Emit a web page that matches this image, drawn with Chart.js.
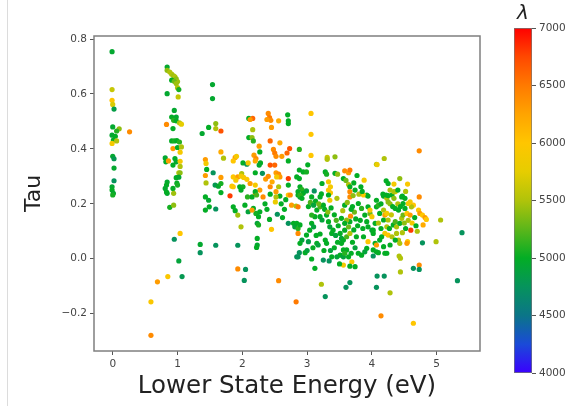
<!DOCTYPE html>
<html>
<head>
<meta charset="utf-8">
<script src="https://cdn.jsdelivr.net/npm/chart.js@4.4.0/dist/chart.umd.min.js"></script>
<style>
  html, body { margin: 0; padding: 0; background: #fff; }
  #page { position: relative; width: 581px; height: 406px; overflow: hidden; }
  #edge { position: absolute; left: 7px; top: 0; width: 1px; height: 406px; background: #dcdcdc; }
  #scatterBox { position: absolute; left: 0; top: 0; width: 500px; height: 406px; }
  #barBox { position: absolute; left: 500px; top: 0; width: 81px; height: 406px; }
</style>
</head>
<body>
<div id="page">
  <div id="edge"></div>
  <div id="scatterBox"><canvas id="scatter"></canvas></div>
  <div id="barBox"><canvas id="colorbar"></canvas></div>
</div>
<script>
// each line: [lower state energy (eV), tau, wavelength (A)]
const stripZero = [
  [-0.01,0.754,4950],[-0.01,0.616,5600],[-0.01,0.577,6000],[0.00,0.562,5700],[0.02,0.545,4850],
  [0.00,0.480,4950],[0.10,0.473,5400],[0.06,0.465,5100],[-0.01,0.450,4950],[0.04,0.446,5000],
  [0.01,0.432,5000],[0.06,0.429,5500],[-0.01,0.420,5900],[0.26,0.462,6400],[0.00,0.373,4950],
  [0.02,0.364,4800],[0.02,0.330,4950],[0.02,0.284,4750],[-0.01,0.262,4950],[-0.01,0.250,5000],
  [0.01,0.238,4950],[0.00,0.232,5050]
];

const stripOne = [
  [0.84,0.698,4950],[0.84,0.686,5400],[0.88,0.680,5500],[0.91,0.672,5500],[0.94,0.666,5450],
  [0.96,0.662,5500],[0.98,0.655,5400],[1.00,0.645,5450],[0.91,0.650,5000],[0.95,0.646,5300],
  [0.98,0.638,5450],[1.00,0.623,5500],[1.02,0.616,5050],[0.84,0.601,4950],[1.01,0.589,5600],
  [0.95,0.540,4950],[0.91,0.516,5000],[0.98,0.516,4950],[0.94,0.504,5100],[0.98,0.502,5000],
  [1.03,0.495,5500],[1.06,0.490,5750],[0.83,0.489,6400],[0.93,0.474,5000],[0.91,0.429,5000],
  [0.95,0.429,5050],[0.99,0.430,5000],[1.03,0.425,5100],[0.93,0.401,6300],[1.00,0.405,5000],
  [1.06,0.407,5500],[1.04,0.388,5900],[0.81,0.367,4950],[0.96,0.365,5000],[0.82,0.353,5000],
  [0.86,0.356,6300],[0.98,0.353,4950],[1.04,0.355,5900],[0.93,0.341,5000],[1.04,0.336,5500],
  [1.02,0.313,5500],[1.04,0.313,5400],[0.98,0.295,5000],[1.02,0.297,4950],[0.84,0.279,4950],
  [0.83,0.268,5000],[0.81,0.256,4950],[0.99,0.275,5000],[1.00,0.268,5050],[0.93,0.256,5000],
  [0.84,0.238,4950],[0.94,0.238,5450],[0.83,0.243,5000],[0.88,0.187,5050],[0.94,0.195,5400],
  [1.04,0.092,6000],[0.95,0.071,4750],[1.02,-0.008,4900],[1.07,-0.065,4800],[0.85,-0.065,5950],
  [0.69,-0.084,6300],[0.59,-0.157,5950],[0.59,-0.279,6400]
];

const bandTwo = [
  [1.54,0.634,4950],[1.54,0.583,4950],[1.59,0.492,5400],[1.59,0.474,5500],[1.67,0.465,6700],
  [1.48,0.478,5000],[1.38,0.456,4950],[1.67,0.389,6200],[1.71,0.366,5500],[1.43,0.361,6300],
  [1.44,0.347,5900],[1.45,0.325,5000],[1.43,0.303,6300],[1.55,0.313,4750],[1.44,0.276,5500],
  [1.58,0.268,4800],[1.63,0.264,4950],[1.67,0.274,5050],[1.67,0.296,6300],[1.67,0.241,5000],
  [1.81,0.229,6800],[1.89,0.369,6300],[1.91,0.373,5900],[1.86,0.356,6000],[2.01,0.349,5000],
  [2.07,0.344,4750],[2.10,0.511,5000],[2.10,0.441,5000],[1.86,0.298,6000],[1.93,0.298,6300],
  [1.90,0.286,5900],[1.99,0.310,5500],[2.02,0.296,5950],[1.84,0.264,5950],[1.86,0.262,6000],
  [1.96,0.262,5000],[2.01,0.262,5050],[1.43,0.225,5000],[1.48,0.213,4950],[1.49,0.189,5000],
  [1.43,0.177,5000],[1.59,0.181,4750],[1.86,0.189,5000],[1.89,0.175,5000],[1.93,0.159,5450],
  [1.98,0.116,5500],[1.35,0.052,4950],[1.35,0.022,4750],[1.59,0.049,4750],[1.93,0.049,4750],
  [1.93,-0.037,6400],[2.05,-0.039,4750],[2.03,-0.079,4750],
  [2.16,0.511,6600],[2.12,0.507,6300],[2.16,0.470,5500],[2.15,0.441,5400],[2.17,0.429,5100],
  [2.26,0.410,6300],[2.18,0.377,6300],[2.21,0.365,6400],[2.20,0.356,6200],[2.27,0.389,5000],
  [2.09,0.349,5900],[2.28,0.349,5000],[2.26,0.341,4950],[2.20,0.313,5000],[1.98,0.301,5900],
  [2.07,0.289,5950],[2.12,0.274,6300],[2.20,0.268,5900],[1.98,0.250,5000],[2.27,0.250,6300],
  [2.20,0.236,6300],[2.15,0.225,5000],[2.08,0.225,5100],[2.20,0.244,5000],[2.22,0.232,5200],
  [2.04,0.195,5000],[2.09,0.171,4900],[2.17,0.183,5000],[2.21,0.165,5050],[2.27,0.171,5000],
  [2.25,0.153,5000],[2.23,0.129,4900],[2.25,0.123,5050],[2.15,0.177,6300],[2.23,0.074,5000],
  [2.23,0.050,4950],[2.22,0.041,5000]
];

const bandThree = [
  [2.40,0.529,6400],[2.42,0.514,6500],[2.44,0.504,6400],[2.38,0.507,6300],[2.45,0.478,6300],
  [2.56,0.502,6200],[2.70,0.524,5000],[2.71,0.502,5000],[2.71,0.492,5000],[3.06,0.529,6000],
  [3.06,0.453,6000],[3.06,0.376,6000],[2.43,0.429,6600],[2.58,0.422,6200],[2.73,0.401,6700],
  [2.69,0.385,6600],[2.48,0.398,6400],[2.50,0.385,6500],[2.52,0.373,6400],[2.61,0.373,6300],
  [2.88,0.398,5100],[3.31,0.369,5600],[3.31,0.362,5500],[3.43,0.371,5400],[3.01,0.342,5000],
  [2.43,0.341,6700],[2.50,0.341,6600],[2.71,0.356,5000],[2.88,0.323,5000],[2.94,0.316,5000],
  [2.99,0.316,5050],[2.84,0.298,5000],[2.88,0.292,5000],[2.52,0.313,6300],[2.56,0.308,6400],
  [2.58,0.298,6300],[2.71,0.292,6800],[2.53,0.298,5900],[2.31,0.311,4750],[2.43,0.262,6400],
  [2.56,0.262,5500],[2.71,0.268,5000],[2.89,0.262,5000],[2.92,0.252,5100],[2.94,0.238,5000],
  [3.11,0.247,4750],[3.23,0.274,5000],[3.33,0.280,5900],[3.36,0.262,5900],[3.28,0.316,5000],
  [3.30,0.308,5050],[3.43,0.311,5000],[3.47,0.308,5400],[3.33,0.250,6000],[3.36,0.240,5950],
  [3.22,0.236,5000],[3.07,0.225,5000],[2.89,0.225,4900],[2.86,0.232,5000],[2.71,0.232,5950],
  [2.58,0.228,5000],[2.32,0.225,6400],
  [2.43,0.235,5000],[2.52,0.244,6300],[2.52,0.225,5500],[2.51,0.207,5800],[2.74,0.232,6400],
  [2.86,0.244,5000],[2.89,0.232,5100],[2.92,0.220,5000],[2.99,0.247,4900],[3.20,0.225,5000],
  [3.33,0.232,5000],[3.35,0.213,5900],[3.46,0.220,5500],
  [2.42,0.143,5000],[2.45,0.107,6000],[2.54,0.162,4750],[2.71,0.129,4750],[2.76,0.195,6300],
  [2.83,0.192,5500],[2.86,0.189,6500],[2.79,0.129,5000],[2.81,0.116,4900],[2.84,0.129,5000],
  [2.86,0.110,5100],[2.89,0.123,5000],[2.86,0.092,6400],[2.92,0.068,4900],[2.89,0.056,5000],
  [2.99,0.086,5000],[3.02,0.062,4850],[3.04,0.104,5000],[3.07,0.129,5000],[3.10,0.116,4900],
  [3.12,0.153,5000],[3.07,0.159,5100],[3.15,0.177,5000],[3.20,0.189,5200],[3.25,0.195,5000],
  [3.20,0.153,5000],[3.23,0.141,4900],[3.30,0.159,5000],[3.33,0.135,5000],[3.35,0.116,4900],
  [3.38,0.092,5000],[3.40,0.104,5000],[2.97,0.022,5000],[2.84,0.007,4750],[2.86,0.007,4750],
  [3.07,-0.001,5000],[3.12,-0.035,5000],[3.25,-0.005,4750],[3.34,-0.008,4750],[2.88,0.022,4750],
  [3.15,0.056,5000],[3.17,0.050,4900],[3.28,0.068,5000],[3.30,0.056,5000],[3.38,0.007,5000],
  [3.46,0.007,4900],[2.56,-0.080,6400],[2.83,-0.157,6500],[3.22,-0.093,5500],[3.28,-0.138,4750],
  [2.36,0.290,6300],[2.40,0.300,6400],[2.46,0.280,6200],[2.35,0.200,5000],[2.38,0.180,5000],
  [2.60,0.200,5000],[2.65,0.180,5000],[2.62,0.150,5000],[2.67,0.215,5000],
  [3.02,0.190,5000],[3.05,0.205,5200],[3.10,0.195,4900],[3.13,0.210,5000],[3.18,0.200,5300],
  [3.27,0.180,5000],[3.32,0.170,5400],[3.37,0.185,5000],[3.42,0.160,5000],[3.45,0.140,5200],
  [3.48,0.120,5000],[3.44,0.085,4900],[3.47,0.060,5000],[3.42,0.040,5000],[3.36,0.030,4900],
  [3.26,0.030,5000],[3.20,0.090,5000],[3.14,0.085,5000],[3.09,0.040,5000],[3.00,0.030,4900]
];

const bandFour = [
  [3.58,0.320,6400],[3.64,0.313,6300],[3.66,0.323,6500],[3.77,0.303,5000],[3.88,0.286,5900],
  [3.56,0.292,5000],[3.60,0.285,5300],[3.64,0.270,5500],[3.66,0.262,5000],[3.72,0.276,5000],
  [3.83,0.262,5000],[3.92,0.232,5000],[4.07,0.344,5500],[3.66,0.244,6400],[3.66,0.225,6400],
  [3.87,0.232,6000],[3.94,0.228,5000],[3.51,0.013,5000],[3.56,0.007,4900],[3.61,0.032,5000],
  [3.56,0.032,5000],[3.58,0.020,5100],[3.64,0.007,5000],[3.51,0.092,5000],[3.53,0.074,4900],
  [3.56,0.068,5000],[3.53,0.056,5000],[3.61,0.080,5200],[3.58,0.104,5000],[3.64,0.116,5300],
  [3.66,0.135,5000],[3.61,0.141,5400],[3.53,0.147,5000],[3.58,0.129,5000],[3.67,0.155,6400],
  [3.66,0.092,5500],[3.69,-0.011,5900],[3.74,-0.029,5000],[3.66,-0.027,5000],[3.56,-0.023,5900],
  [3.50,-0.019,5000],[3.60,-0.104,4750],[3.66,-0.087,4750],[4.07,-0.104,4750],[4.14,-0.208,6400],
  [3.79,0.201,5000],[3.84,0.183,5100],[3.89,0.159,5000],[3.94,0.189,5000],[3.97,0.165,5300],
  [3.92,0.135,5000],[3.94,0.116,5000],[4.00,0.104,4900],[4.02,0.092,5000],[3.87,0.080,5000],
  [3.94,0.062,6000],[3.92,0.038,5000],[3.89,0.025,4900],[3.84,0.013,5000],[4.02,0.032,5000],
  [4.05,0.056,5000],[4.07,0.025,5000],[4.07,0.050,6300],
  [4.18,0.228,5000],[4.23,0.220,5500],[4.25,0.207,5400],[4.31,0.232,5000],[4.36,0.244,5900],
  [4.34,0.220,5400],[4.46,0.225,5000],[4.73,0.225,6400],[4.59,0.207,5900],[4.64,0.195,6000],
  [4.61,0.189,5500],[4.72,0.177,6000],[4.74,0.165,6300],[4.78,0.159,6000],[4.82,0.150,6300],
  [4.84,0.143,6000],[4.79,0.123,6200],[5.06,0.141,5500],[5.39,0.095,4750],[4.60,0.104,6800],
  [4.78,0.058,4750],[4.99,0.062,5500],[4.55,0.062,6000],[4.54,0.056,6300],[4.41,0.068,5500],
  [4.43,0.056,5500],[4.02,0.010,4750],[4.10,0.022,5000],[4.20,0.020,5000],[4.23,0.020,5000],
  [4.42,0.010,5500],[4.44,0.002,5500],[4.73,-0.023,6400],[4.64,-0.035,4750],[4.73,-0.039,4750],
  [4.44,-0.048,5500],[4.08,-0.063,4750],[4.19,-0.063,4750],[5.32,-0.080,4750],[4.28,-0.124,5500],
  [4.64,-0.235,6000],
  [3.97,0.177,5900],[4.07,0.213,5000],[4.07,0.189,5000],[4.10,0.195,5100],[4.12,0.165,5000],
  [4.18,0.177,5500],[4.20,0.159,6300],[4.23,0.165,5900],[4.18,0.141,5000],[4.25,0.141,5500],
  [4.23,0.116,5500],[4.20,0.092,5900],[4.25,0.086,6000],[4.15,0.080,5000],[4.12,0.068,5000],
  [4.33,0.123,5000],[4.36,0.135,5200],[4.38,0.116,5500],[4.43,0.129,5000],[4.46,0.147,5500],
  [4.48,0.159,5300],[4.54,0.165,6000],[4.59,0.159,6300],[4.51,0.183,5000],[4.41,0.177,5000],
  [4.36,0.183,5000],[4.38,0.092,5500],[4.31,0.080,5500],[4.36,0.068,5000],[4.28,0.050,5000],
  [4.18,0.044,5000],[4.02,0.104,5000],[4.05,0.129,5000],[4.00,0.153,5900],[4.56,0.201,5900],
  [4.48,0.201,5000],[4.51,0.220,5000],
  [4.73,0.393,6400],[4.19,0.365,5500],[4.08,0.343,5800],[4.22,0.284,5000],[4.25,0.274,5000],
  [4.34,0.272,5900],[4.43,0.292,5400],[4.55,0.272,5950],[4.34,0.244,5500],[4.17,0.235,5000],
  [4.22,0.232,5000],[4.25,0.230,5000],[4.47,0.228,5000],
  [3.55,0.175,5500],[3.58,0.195,5000],[3.62,0.205,5400],[3.70,0.190,5000],[3.73,0.170,5300],
  [3.68,0.180,5000],[3.75,0.145,5000],[3.78,0.120,5000],[3.72,0.105,5000],[3.76,0.080,5000],
  [3.70,0.060,5000],[3.74,0.040,4900],[3.79,0.020,5000],[3.68,0.020,5000],[3.71,0.230,5400],
  [3.74,0.250,5000],[3.80,0.235,5500],[3.85,0.245,5000],[3.82,0.140,5000],[3.86,0.110,5000],
  [4.28,0.200,5400],[4.32,0.190,5000],[4.30,0.160,5600],[4.40,0.200,5500],[4.44,0.190,5000],
  [4.50,0.130,5400],[4.52,0.110,5000],[4.47,0.095,5500],[4.56,0.140,5500],[4.62,0.130,5900],
  [4.66,0.150,5000],[4.68,0.120,5000],[4.70,0.100,5500],[4.27,0.110,5000],[4.14,0.110,5000],
  [4.10,0.130,5500],[4.14,0.200,5000],[4.28,0.250,5500],[4.40,0.250,5000],[4.52,0.245,5500]
];

const xTicks = [0, 1, 2, 3, 4, 5];
const yTicks = [-0.2, 0, 0.2, 0.4, 0.6, 0.8];
const yTickLabels = ["\u22120.2", "0.0", "0.2", "0.4", "0.6", "0.8"];
const cbTicks = [4000, 4500, 5000, 5500, 6000, 6500, 7000];

// wavelength colour map
const cmapStops = [4000, 4250, 4500, 4750, 5000, 5250, 5500, 5750, 6000, 6250, 6500, 6750, 7000];
const cmapColors = ["#3a00ff", "#1a4ad8", "#0b7588", "#06935c", "#03ad25", "#5cb61a", "#b0c30a",
  "#e6cd00", "#ffc600", "#ffa400", "#ff7a00", "#ff4800", "#ff0000"];

function hexRgb(h) {
  return [1, 3, 5].map(i => parseInt(h.slice(i, i + 2), 16));
}

function lambdaColor(w) {
  let i = 0;
  while (i < cmapStops.length - 2 && w > cmapStops[i + 1]) i++;
  const t = Math.min(1, Math.max(0, (w - cmapStops[i]) / (cmapStops[i + 1] - cmapStops[i])));
  const a = hexRgb(cmapColors[i]);
  const b = hexRgb(cmapColors[i + 1]);
  const c = a.map((v, k) => Math.round(v + (b[k] - v) * t));
  return `rgb(${c[0]},${c[1]},${c[2]})`;
}

const lines = [...stripZero, ...stripOne, ...bandTwo, ...bandThree, ...bandFour];

const tickFont = { family: "DejaVu Sans", size: 10.5 };

const frame = {
  id: "frame",
  afterDraw(chart) {
    const { ctx, chartArea: a } = chart;
    ctx.save();
    ctx.strokeStyle = "#7f7f7f";
    ctx.lineWidth = 1.5;
    ctx.strokeRect(a.left, a.top, a.right - a.left, a.bottom - a.top);
    ctx.restore();
  }
};

new Chart(document.getElementById("scatter"), {
  type: "scatter",
  data: {
    datasets: [{
      data: lines.map(l => ({ x: l[0], y: l[1] })),
      pointBackgroundColor: lines.map(l => lambdaColor(l[2])),
      pointBorderWidth: 0,
      pointRadius: 2.6,
      pointHoverRadius: 2.6
    }]
  },
  options: {
    animation: false,
    responsive: true,
    maintainAspectRatio: false,
    layout: { padding: { left: 0, right: 20, top: 36, bottom: 0 } },
    plugins: { legend: { display: false }, tooltip: { enabled: false } },
    scales: {
      x: {
        type: "linear",
        min: -0.289,
        max: 5.668,
        afterBuildTicks: s => { s.ticks = xTicks.map(v => ({ value: v })); },
        afterFit: s => { s.height = 55; },
        ticks: { color: "#444", font: tickFont, padding: 3, maxRotation: 0, callback: v => String(v) },
        grid: { drawOnChartArea: false, drawTicks: true, tickLength: 4, color: "#555" },
        border: { display: false },
        title: { display: true, text: "Lower State Energy (eV)", color: "#222", font: { family: "DejaVu Sans", size: 24.5 }, padding: { top: 0, bottom: 5 } }
      },
      y: {
        min: -0.336,
        max: 0.811,
        afterBuildTicks: s => { s.ticks = yTicks.map(v => ({ value: v })); },
        afterFit: s => { s.width = 94; },
        ticks: { color: "#444", font: tickFont, padding: 3, callback: v => yTickLabels[yTicks.indexOf(v)] },
        grid: { drawOnChartArea: false, drawTicks: true, tickLength: 4, color: "#555" },
        border: { display: false },
        title: { display: true, text: "Tau", color: "#222", font: { family: "DejaVu Sans", size: 22 }, padding: { top: 21, bottom: 0 } }
      }
    }
  },
  plugins: [frame]
});

function barFill(context) {
  const { ctx, chartArea } = context.chart;
  if (!chartArea) return cmapColors[0];
  const g = ctx.createLinearGradient(0, chartArea.bottom, 0, chartArea.top);
  cmapStops.forEach((s, i) => g.addColorStop((s - 4000) / 3000, cmapColors[i]));
  return g;
}

new Chart(document.getElementById("colorbar"), {
  type: "bar",
  data: {
    labels: [""],
    datasets: [{
      data: [[4000, 7000]],
      backgroundColor: barFill,
      borderColor: "#777",
      borderWidth: 1,
      borderSkipped: false,
      barPercentage: 1,
      categoryPercentage: 1
    }]
  },
  options: {
    animation: false,
    responsive: true,
    maintainAspectRatio: false,
    layout: { padding: { left: 14, right: 0, top: 0, bottom: 33 } },
    plugins: { legend: { display: false }, tooltip: { enabled: false } },
    scales: {
      x: {
        position: "top",
        afterFit: s => { s.height = 28; },
        grid: { display: false },
        ticks: { display: false },
        border: { display: false },
        title: { display: true, text: "\u03bb", color: "#222", font: { family: "DejaVu Sans", size: 20, style: "italic" }, padding: { top: 2, bottom: 0 } }
      },
      y: {
        position: "right",
        min: 4000,
        max: 7000,
        afterBuildTicks: s => { s.ticks = cbTicks.map(v => ({ value: v })); },
        afterFit: s => { s.width = 49; },
        ticks: { color: "#444", font: tickFont, padding: 3, callback: v => String(v) },
        grid: { drawOnChartArea: false, drawTicks: true, tickLength: 4, color: "#555" },
        border: { display: false }
      }
    }
  }
});
</script>
</body>
</html>
